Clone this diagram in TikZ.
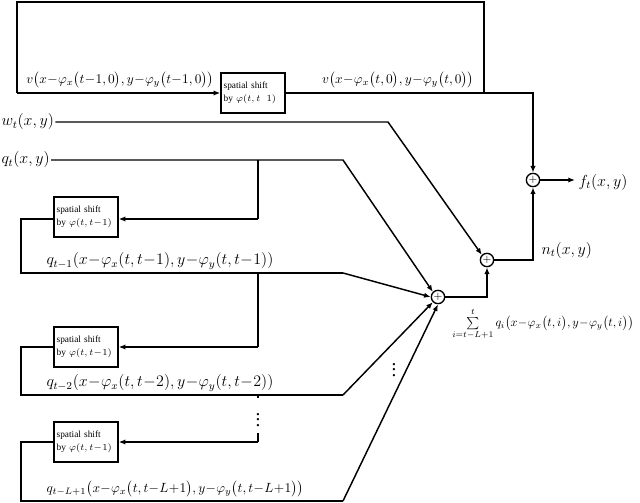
\documentclass[tikz,border=0pt]{standalone}
\usepackage{fontspec}
\usepackage{graphicx}
\setmainfont{Liberation Serif}
\usetikzlibrary{arrows.meta}
\begin{document}
\begin{tikzpicture}[x=0.75pt,y=-0.75pt,
  ln/.style={line width=1.1pt},
  ar/.style={ln,-{Latex[length=5pt,width=4pt]}},
  shiftbox/.style={draw,line width=1.1pt,minimum width=48pt,minimum height=30pt,inner sep=1pt,align=left,font=\scriptsize,text width=44pt},
  sumnode/.style={circle,draw,line width=1pt,inner sep=0pt,minimum size=10pt,font=\footnotesize},
  lbl/.style={font=\normalsize,inner sep=1pt},
  big/.style={font=\large,inner sep=1pt}]
\medmuskip=0.5mu
\useasboundingbox (0,0) rectangle (640,503);
% adders
\node[sumnode] (p1) at (533,180) {$+$};
\node[sumnode] (p2) at (487,260) {$+$};
\node[sumnode] (p3) at (438,297) {$+$};
% top loop
\node[shiftbox] (b1) at (253,93) {spatial shift\\[2pt] by $\varphi(t,t\ \ 1)$};
\coordinate (tl) at (17,2); \coordinate (tr) at (484,2);
\coordinate (bl) at (17,93); \coordinate (br) at (484,93);
\coordinate (c1) at (533,93);
\draw[ln] (b1.east) -- (br) -- (tr) -- (tl) -- (bl);
\draw[ar] (bl) -- (b1.west);
\draw[ar] (br) -- (c1) -- (p1.north);
\node[lbl,anchor=south] at (120,90) {$v\bigl(x-\varphi_x\bigl(t-1,0\bigr),y-\varphi_y\bigl(t-1,0\bigr)\bigr)$};
\node[lbl,anchor=south] at (398,90) {$v\bigl(x-\varphi_x\bigl(t,0\bigr),y-\varphi_y\bigl(t,0\bigr)\bigr)$};
% output
\coordinate (fo) at (575,180);
\draw[ar] (p1.east) -- (fo);
\node[big,anchor=west] (f) at (577,182) {$f_t\bigl(x,y\bigr)$};
% p2 -> p1
\coordinate (c2) at (533,260);
\draw[ar] (p2.east) -- (c2) -- (p1.south);
\node[big,anchor=west] at (540,250) {$n_t\bigl(x,y\bigr)$};
% p3 -> p2
\coordinate (c3) at (487,297);
\draw[ar] (p3.east) -- (c3) -- (p2.south);
% w_t
\node[big,anchor=west] (w) at (0,122) {$w_t\bigl(x,y\bigr)$};
\coordinate (w1) at (388,122);
\draw[ar] (w.east) -- (w1) -- (p2.north west);
% q_t
\node[big,anchor=west] (q) at (0,160) {$q_t\bigl(x,y\bigr)$};
\coordinate (q1) at (343,160);
\draw[ar] (q.east) -- (q1) -- (p3.north west);
% stage 1
\node[shiftbox] (b2) at (86,217) {spatial shift\\[2pt] by $\varphi(t,t-1)$};
\coordinate (s1a) at (258,160); \coordinate (s1b) at (258,219);
\draw[ln] (s1a) -- (s1b);
\draw[ar] (s1b) -- (b2.east |- s1b);
\coordinate (l1a) at (21,219); \coordinate (l1b) at (21,273); \coordinate (l1c) at (343,273);
\draw[ln] (b2.west |- l1a) -- (l1a) -- (l1b) -- (l1c);
\draw[ar] (l1c) -- (p3.west);
\node[big,anchor=south west] at (45,271) {$q_{t-1}\bigl(x-\varphi_x\bigl(t,t-1\bigr),y-\varphi_y\bigl(t,t-1\bigr)\bigr)$};
% stage 2
\node[shiftbox] (b3) at (86,347) {spatial shift\\[2pt] by $\varphi(t,t-1)$};
\coordinate (s2a) at (258,273); \coordinate (s2b) at (258,347);
\draw[ln] (s2a) -- (s2b);
\draw[ar] (s2b) -- (b3.east |- s2b);
\coordinate (l2a) at (21,347); \coordinate (l2b) at (21,395); \coordinate (l2c) at (343,395);
\draw[ln] (b3.west |- l2a) -- (l2a) -- (l2b) -- (l2c);
\draw[ar] (l2c) -- (p3.south west);
\node[big,anchor=south west] at (45,393) {$q_{t-2}\bigl(x-\varphi_x\bigl(t,t-2\bigr),y-\varphi_y\bigl(t,t-2\bigr)\bigr)$};
% stage L
\node[shiftbox] (b4) at (86,442) {spatial shift\\[2pt] by $\varphi(t,t-1)$};
\coordinate (s3a) at (258,395); \coordinate (s3b) at (258,442);
\draw[ln] (s3a) -- (258,398); \draw[ln] (258,433) -- (s3b);
\node[font=\Large,inner sep=0] (d1) at (258,416) {$\vdots$};
\draw[ar] (s3b) -- (b4.east |- s3b);
\coordinate (l3a) at (21,442); \coordinate (l3b) at (21,501); \coordinate (l3c) at (343,501);
\draw[ln] (b4.west |- l3a) -- (l3a) -- (l3b) -- (l3c);
\draw[ar] (l3c) -- (p3.south);
\node[lbl,anchor=south west] at (45,499) {$q_{t-L+1}\bigl(x-\varphi_x\bigl(t,t-L+1\bigr),y-\varphi_y\bigl(t,t-L+1\bigr)\bigr)$};
\node[font=\Large,inner sep=0] (d2) at (394,366) {$\vdots$};
% sum label
\node[anchor=north west,inner sep=0pt] at (452,308) {\resizebox{136pt}{!}{$\sum\limits_{i=t-L+1}^{t} q_i\bigl(x-\varphi_x\bigl(t,i\bigr),y-\varphi_y\bigl(t,i\bigr)\bigr)$}};
\end{tikzpicture}
\end{document}
